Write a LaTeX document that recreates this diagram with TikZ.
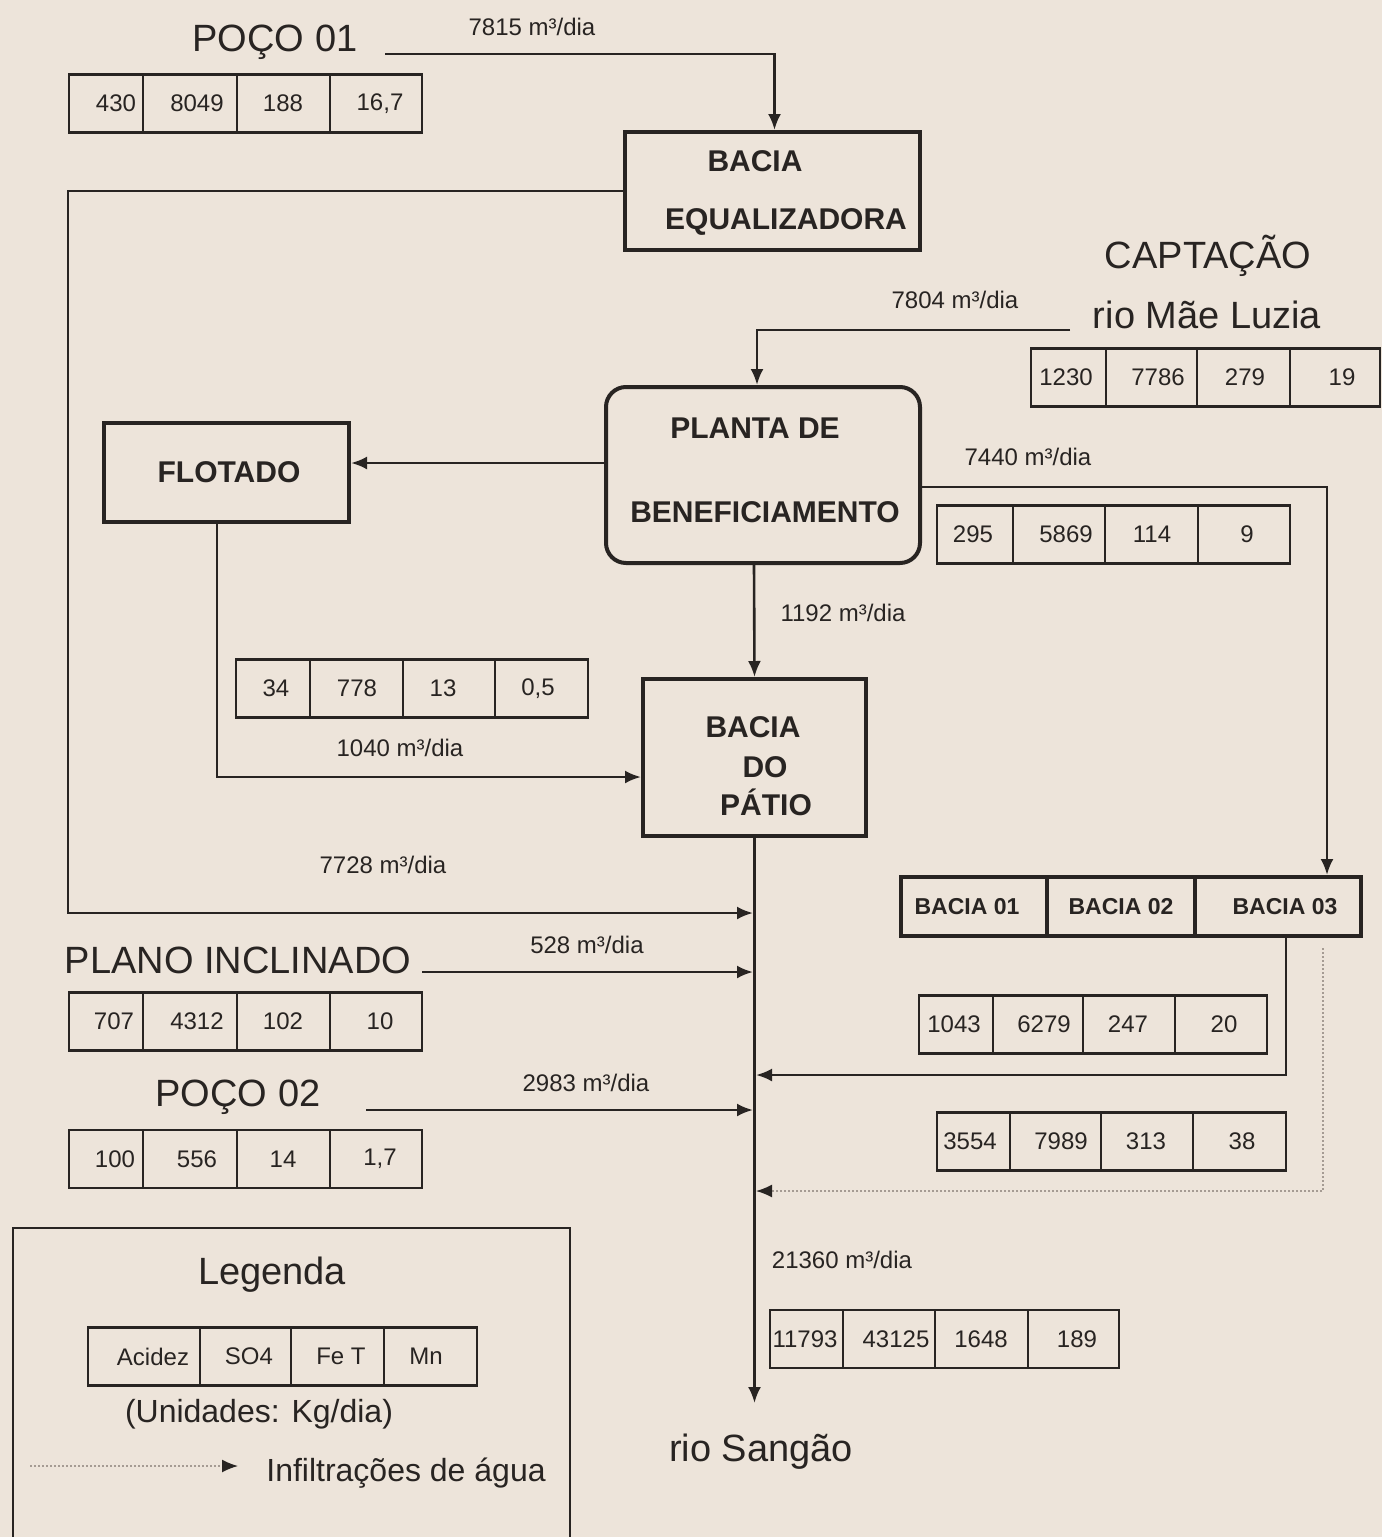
\documentclass[tikz,border=0pt]{standalone}
\usepackage{fontspec}
\setmainfont{Liberation Sans}
\usetikzlibrary{arrows.meta}
\definecolor{bg}{RGB}{237,228,218}
\definecolor{ink}{RGB}{40,36,34}
\definecolor{dotc}{RGB}{165,155,147}
\tikzset{
 flow/.style={draw=ink, line width=2.6pt, -{Latex[length=16pt,width=13pt]}},
 dotflow/.style={draw=dotc, line width=1.6pt, dash pattern=on 1.6pt off 2.4pt, -{Latex[length=16pt,width=13pt,color=ink]}},
 wire/.style={draw=ink, line width=2.6pt},
 boxnode/.style={draw=ink, line width=4pt, inner sep=0pt},
 boxtext/.style={text=ink, inner sep=0pt, anchor=base, font=\fontsize{30}{36}\selectfont\bfseries},
 cell/.style={draw=ink, line width=2.5pt, inner sep=0pt, minimum height=58pt, text=ink, font=\fontsize{24}{28}\selectfont},
 bacell/.style={draw=ink, line width=4pt, inner sep=0pt, minimum height=59pt, text=ink, font=\fontsize{23}{28}\selectfont\bfseries},
 big/.style={text=ink, font=\fontsize{38}{44}\selectfont, inner sep=0pt},
 qlabel/.style={text=ink, font=\fontsize{24}{28}\selectfont, inner sep=0pt},
}
% \tcell{name}{x1}{x2}{y}{text}{text-x}
\newcommand\tcell[6]{\pgfmathsetmacro\cw{#3-#2}\pgfmathsetmacro\cx{(#2+#3)/2}%
 \pgfmathsetmacro\dd{2*(#6-\cx)}%
 \node[cell, minimum width=\cw pt] (#1) at (\cx,#4) {\hspace*{\dd pt}#5};}
\newcommand\bcell[6]{\pgfmathsetmacro\cw{#3-#2}\pgfmathsetmacro\cx{(#2+#3)/2}%
 \pgfmathsetmacro\dd{2*(#6-\cx)}%
 \node[bacell, minimum width=\cw pt] (#1) at (\cx,#4) {\hspace*{\dd pt}#5};}
\begin{document}
\begin{tikzpicture}[x=1pt,y=-1pt]
\fill[bg] (0,0) rectangle (1382,1537);
\useasboundingbox (0,0) rectangle (1382,1537);

% ---- POCO 01
\node[big] (p01) at (275,42) {POÇO 01};
\coordinate (p01out) at (385,54);
\node[qlabel] (q7815) at (532,27) {7815 m³/dia};
\tcell{p01a}{69}{143}{103.5}{430}{116}
\tcell{p01b}{143}{237}{103.5}{8049}{197}
\tcell{p01c}{237}{330}{103.5}{188}{283}
\tcell{p01d}{330}{422}{103.5}{16,7}{380}

% ---- Bacia equalizadora
\node[boxnode, minimum width=295pt, minimum height=118pt] (beq) at (772.5,191) {};
\node[boxtext] (beqt1) at (755,171) {BACIA};
\node[boxtext] (beqt2) at (786,229) {EQUALIZADORA};
\draw[flow] (p01out) -| ([xshift=2pt]beq.north);

% ---- Captacao
\node[big] (capt) at (1208,256) {CAPTAÇÃO};
\node[big] (rml) at (1207,315) {rio Mãe Luzia};
\coordinate (capout) at (1070,330);
\node[qlabel] (q7804) at (955,300) {7804 m³/dia};
\tcell{capa}{1031}{1106}{377.5}{1230}{1066}
\tcell{capb}{1106}{1197}{377.5}{7786}{1158}
\tcell{capc}{1197}{1290}{377.5}{279}{1245}
\tcell{capd}{1290}{1380}{377.5}{19}{1342}

% ---- Planta de beneficiamento
\node[boxnode, rounded corners=20pt, minimum width=314pt, minimum height=176pt] (pb) at (763,475) {};
\node[boxtext] (pbt1) at (755,438) {PLANTA DE};
\node[boxtext] (pbt2) at (765,522) {BENEFICIAMENTO};
\draw[flow] (capout) -| ([xshift=-6pt]pb.north);

% ---- Flotado
\node[boxnode, minimum width=245pt, minimum height=99pt] (flot) at (226.5,472.5) {};
\node[boxtext] (flott) at (229,482) {FLOTADO};
\coordinate (y463) at (0,463);
\draw[flow] (pb.west |- y463) -- (flot.east |- y463);

% ---- Bacia do patio
\node[boxnode, minimum width=223pt, minimum height=157pt] (bp) at (754.5,757.5) {};
\node[boxtext] (bpt1) at (753,737) {BACIA};
\node[boxtext] (bpt2) at (765,777) {DO};
\node[boxtext] (bpt3) at (766,815) {PÁTIO};
\draw[flow] ([xshift=-9pt]pb.south) -- (bp.north);
\node[qlabel] (q1192) at (843,613) {1192 m³/dia};

\draw[flow] ([xshift=-9.5pt]flot.south) |- ([yshift=-19.5pt]bp.west);
\node[qlabel] (q1040) at (400,748) {1040 m³/dia};
\tcell{flta}{236}{310}{688.5}{34}{276}
\tcell{fltb}{310}{403}{688.5}{778}{357}
\tcell{fltc}{403}{495}{688.5}{13}{443}
\tcell{fltd}{495}{588}{688.5}{0,5}{538}

% ---- Planta -> bacias
\bcell{bac1}{901}{1047}{906.5}{BACIA 01}{967}
\bcell{bac2}{1047}{1195}{906.5}{BACIA 02}{1121}
\bcell{bac3}{1195}{1361}{906.5}{BACIA 03}{1285}
\draw[flow] ([yshift=-12pt]pb.east) -| ([xshift=49pt]bac3.north);
\node[qlabel] (q7440) at (1028,457) {7440 m³/dia};
\tcell{pbra}{937}{1013}{534.5}{295}{973}
\tcell{pbrb}{1013}{1105}{534.5}{5869}{1066}
\tcell{pbrc}{1105}{1198}{534.5}{114}{1152}
\tcell{pbrd}{1198}{1290}{534.5}{9}{1247}

% ---- Main line to rio Sangao
\coordinate (sea) at (754.5,1403);
\draw[flow] (bp.south) -- (sea);
\node[big] (rs) at (761,1452) {rio Sangão};
\node[qlabel] (q21360) at (842,1260) {21360 m³/dia};
\tcell{outa}{770}{843}{1339}{11793}{805}
\tcell{outb}{843}{935}{1339}{43125}{896}
\tcell{outc}{935}{1028}{1339}{1648}{981}
\tcell{outd}{1028}{1119}{1339}{189}{1077}

% ---- From Bacia equalizadora to main line
\coordinate (lcorner) at (68,913);
\coordinate (m1) at (753,913);
\draw[flow] (beq.west) -| (lcorner) -- (m1);
\node[qlabel] (q7728) at (383,865) {7728 m³/dia};

% ---- Plano inclinado
\node[big] (pi) at (238,960) {PLANO INCLINADO};
\coordinate (piout) at (422,972);
\coordinate (m2) at (753,972);
\draw[flow] (piout) -- (m2);
\node[qlabel] (q528) at (587,945) {528 m³/dia};
\tcell{pia}{69}{143}{1021.5}{707}{114}
\tcell{pib}{143}{237}{1021.5}{4312}{197}
\tcell{pic}{237}{330}{1021.5}{102}{283}
\tcell{pid}{330}{422}{1021.5}{10}{380}

% ---- Poco 02
\node[big] (p02) at (238,1097) {POÇO 02};
\coordinate (p02out) at (366,1110);
\coordinate (m3) at (753,1110);
\draw[flow] (p02out) -- (m3);
\node[qlabel] (q2983) at (586,1083) {2983 m³/dia};
\tcell{p02a}{69}{143}{1159}{100}{115}
\tcell{p02b}{143}{237}{1159}{556}{197}
\tcell{p02c}{237}{330}{1159}{14}{283}
\tcell{p02d}{330}{422}{1159}{1,7}{380}

% ---- Bacia 03 outflow
\coordinate (m4) at (756,1075);
\draw[flow] ([xshift=8pt]bac3.south) |- (m4);
\tcell{b3a}{919}{993}{1024.5}{1043}{954}
\tcell{b3b}{993}{1083}{1024.5}{6279}{1044}
\tcell{b3c}{1083}{1175}{1024.5}{247}{1128}
\tcell{b3d}{1175}{1267}{1024.5}{20}{1224}

% ---- Infiltration (dotted)
\coordinate (m5) at (756,1191);
\draw[dotflow] ([xshift=45pt,yshift=-10pt]bac3.south) |- (m5);
\tcell{infa}{937}{1010}{1141.5}{3554}{970}
\tcell{infb}{1010}{1101}{1141.5}{7989}{1061}
\tcell{infc}{1101}{1193}{1141.5}{313}{1146}
\tcell{infd}{1193}{1286}{1141.5}{38}{1242}

% ---- Legend
\draw[wire] (13,1540) -- (13,1228) -- (570,1228) -- (570,1540);
\node[big] (leg) at (272,1275) {Legenda};
\tcell{lega}{88}{200}{1356.5}{Acidez}{153}
\tcell{legb}{200}{291}{1356.5}{SO4}{249}
\tcell{legc}{291}{384}{1356.5}{Fe T}{341}
\tcell{legd}{384}{477}{1356.5}{Mn}{426}
\node[text=ink, font=\fontsize{32}{38}\selectfont, inner sep=0pt] (units) at (259,1414) {(Unidades: Kg/dia)};
\coordinate (lg1) at (30,1466);
\coordinate (lg2) at (238,1466);
\draw[dotflow] (lg1) -- (lg2);
\node[text=ink, font=\fontsize{32}{38}\selectfont, inner sep=0pt] (inf) at (406,1473) {Infiltrações de água};
\end{tikzpicture}
\end{document}
